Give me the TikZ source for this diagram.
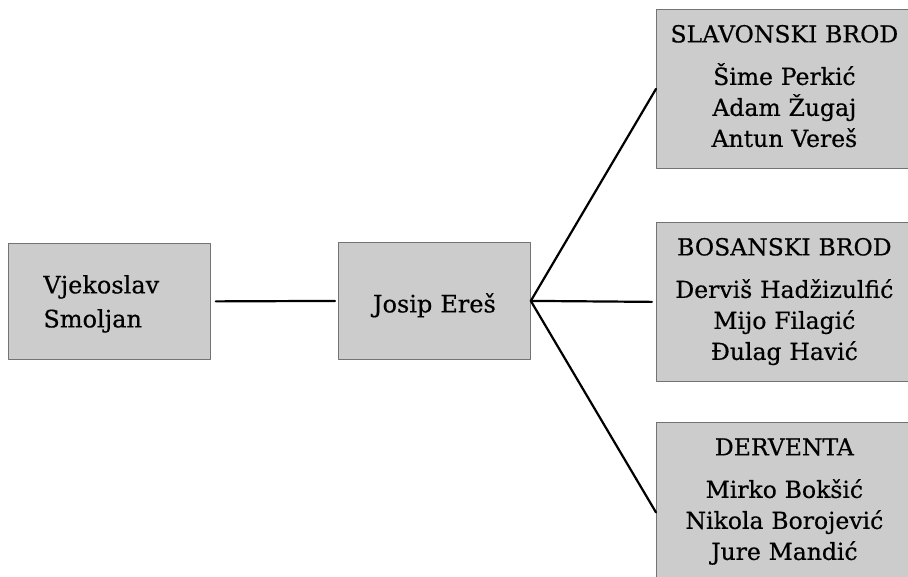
\documentclass[tikz,border=0pt]{standalone}
\usepackage{fontspec}
\setmainfont[FakeBold=0.5]{DejaVu Serif}
\begin{document}
\begin{tikzpicture}[x=1pt, y=-1pt, line join=round, line cap=round,
  box/.style={draw=black!55, fill=black!20, line width=0.8pt, inner sep=0pt, anchor=north west},
  place/.style={box, text width=256pt, align=center, text height=33pt, text depth=126pt, font=\fontsize{23.5}{31}\selectfont},
  link/.style={line width=2.2pt}]
	\useasboundingbox (0,0) rectangle (908,576);
	% left part of the chain
	\node[box, text width=132pt, inner xsep=35pt, align=left, text height=50pt, text depth=66pt, font=\fontsize{24}{34}\selectfont] (vjekoslav) at (8,243) {Vjekoslav\\Smoljan};
	\node[box, text width=192pt, align=center, text height=70pt, text depth=47pt, font=\fontsize{24}{34}\selectfont] (josip) at (338,242) {Josip Ereš};
	% the three towns
	\node[place] (slavonski) at (656,9) {SLAVONSKI BROD\\[11.5pt]Šime Perkić\\Adam Žugaj\\Antun Vereš};
	\node[place] (bosanski) at (656,222) {BOSANSKI BROD\\[11.5pt]Derviš Hadžizulfić\\Mijo Filagić\\Đulag Havić};
	\node[place, text depth=147pt] (derventa) at (656,422) {DERVENTA\\[11.5pt]Mirko Bokšić\\Nikola Borojević\\Jure Mandić};
	\draw[link, shorten <=5pt, shorten >=3pt] (vjekoslav.east) -- (josip.west);
	\draw[link] (josip.east) -- (slavonski.west);
	\draw[link, shorten >=4pt] (josip.east) -- (bosanski.west);
	\draw[link] (josip.east) -- (derventa.west);
\end{tikzpicture}
\end{document}
